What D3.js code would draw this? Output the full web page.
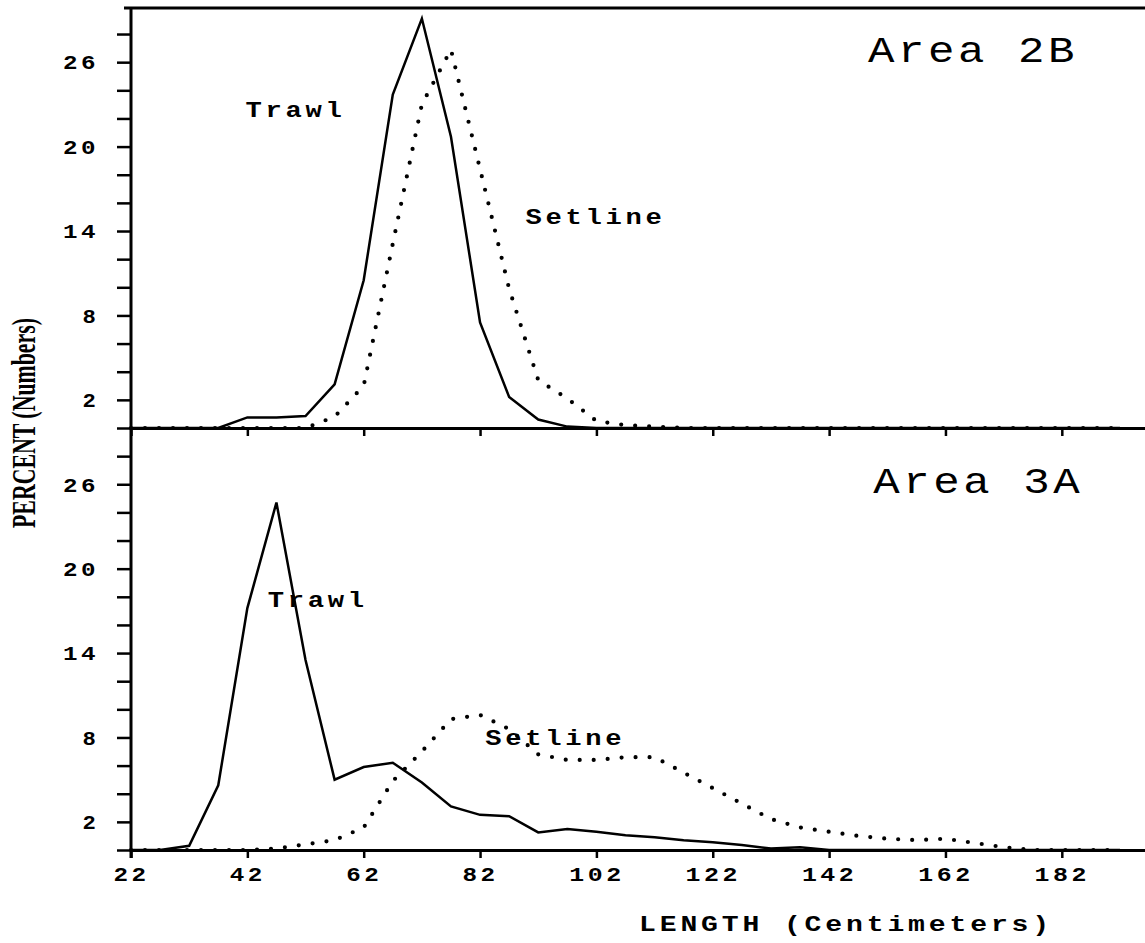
<html lang="en">
  <head>
    <meta charset="utf-8">
    <title>Length frequency - Area 2B / 3A</title>
    <script src="https://d3js.org/d3.v7.min.js"></script>
    <style>
      body { margin: 0; background: #fff; }
      .tick line { stroke: #000; stroke-width: 2.5; }
      .lbl { font-family: "Liberation Mono", monospace; font-weight: bold; fill: #000; letter-spacing: 3px; }
    </style>
  </head>
  <body>
    <script type="text/javascript">
      var w = 1145;
      var h = 943;

      // length classes (cm)
      var lengths = [22, 27, 32, 37, 42, 47, 52, 57, 62, 67, 72, 77, 82, 87, 92, 97, 102, 107, 112, 117,
                     122, 127, 132, 137, 142, 147, 152, 157, 162, 167, 172, 177, 182, 187, 192];
      // Area 2B
      var trawl2B   = [0, 0, 0, 0, 0.75, 0.75, 0.85, 3.1, 10.5, 23.7, 29.1, 20.7, 7.5, 2.2, 0.6, 0.1, 0, 0, 0, 0,
                       0, 0, 0, 0, 0, 0, 0, 0, 0, 0, 0, 0, 0, 0, 0];
      var setline2B = [0, 0, 0, 0, 0, 0, 0, 0.8, 3.0, 13.1, 23.0, 26.9, 18.4, 9.9, 3.4, 2.1, 0.5, 0.2, 0.1, 0,
                       0, 0, 0, 0, 0, 0, 0, 0, 0, 0, 0, 0, 0, 0, 0];
      // Area 3A
      var trawl3A   = [0, 0, 0.3, 4.6, 17.2, 24.7, 13.5, 5.0, 5.9, 6.2, 4.8, 3.1, 2.5, 2.4, 1.25, 1.5, 1.3, 1.05, 0.9, 0.7,
                       0.55, 0.35, 0.1, 0.2, 0, 0, 0, 0, 0, 0, 0, 0, 0, 0, 0];
      var setline3A = [0, 0, 0, 0, 0, 0.1, 0.4, 0.7, 1.6, 4.9, 7.0, 9.3, 9.6, 8.6, 6.8, 6.4, 6.4, 6.6, 6.6, 5.5,
                       4.4, 3.3, 2.2, 1.6, 1.3, 1.0, 0.8, 0.7, 0.8, 0.5, 0.2, 0, 0, 0, 0];

      var xTicks = [22, 42, 62, 82, 102, 122, 142, 162, 182];
      var yTicks = [0, 2, 4, 6, 8, 10, 12, 14, 16, 18, 20, 22, 24, 26, 28];
      var yLabels = [2, 8, 14, 20, 26];

      // width of wide typewriter digits: ~19.5px pitch
      function digitWidth(s) { return String(s).length * 19.5 - 3; }

      var svg = d3.select("body").append("svg")
                  .attr("width", w)
                  .attr("height", h);

      var xScale = d3.scaleLinear().domain([22, 196.3]).range([131, 1145]);

      var panels = [
        { title: "Area 2B", trawl: trawl2B, setline: setline2B, range: [428, 8], top: 29.85,
          titlePos: [148.7, 26.0], trawlPos: [41.7, 22.1], setlinePos: [89.8, 14.5], labels: false },
        { title: "Area 3A", trawl: trawl3A, setline: setline3A, range: [850, 428], top: 30,
          titlePos: [149.6, 25.4], trawlPos: [45.5, 17.3], setlinePos: [82.9, 7.5], labels: true }
      ];

      panels.forEach(function (p) {
        var yScale = d3.scaleLinear().domain([0, p.top]).range(p.range);
        var g = svg.append("g");

        // y axis ticks
        var yAxis = d3.axisLeft(yScale)
                      .tickValues(yTicks)
                      .tickSize(14)
                      .tickPadding(18)
                      .tickFormat(function (d) { return yLabels.indexOf(d) >= 0 ? d : ""; });
        var ya = g.append("g")
                  .attr("transform", "translate(131,0)")
                  .call(yAxis);
        ya.select(".domain").remove();
        ya.selectAll("text")
          .attr("class", "lbl")
          .style("font-size", "21px")
          .filter(function (d) { return yLabels.indexOf(d) >= 0; })
          .attr("textLength", function (d) { return digitWidth(d); })
          .attr("lengthAdjust", "spacingAndGlyphs");

        // x axis (baseline) with ticks pointing down
        var xAxis = d3.axisBottom(xScale)
                      .tickValues(xTicks)
                      .tickSize(8)
                      .tickSizeOuter(0)
                      .tickFormat(function (d) { return p.labels ? d : ""; });
        var xa = g.append("g")
                  .attr("transform", "translate(0," + p.range[0] + ")")
                  .call(xAxis);
        xa.select(".domain").attr("stroke", "#000").attr("stroke-width", 3);
        if (p.labels) {
          xa.selectAll("text")
            .attr("class", "lbl")
            .attr("y", 31)
            .attr("dy", 0)
            .style("font-size", "21px")
            .attr("textLength", function (d) { return digitWidth(d); })
            .attr("lengthAdjust", "spacingAndGlyphs");
        }

        var line = d3.line()
                     .x(function (d, i) { return xScale(lengths[i]); })
                     .y(function (d) { return yScale(d); });

        g.append("path")
         .datum(p.trawl)
         .attr("d", line)
         .attr("fill", "none")
         .attr("stroke", "#000")
         .attr("stroke-width", 2.5)
         .attr("stroke-linejoin", "miter");

        g.append("path")
         .datum(p.setline)
         .attr("d", line)
         .attr("fill", "none")
         .attr("stroke", "#000")
         .attr("stroke-width", 4.2)
         .attr("stroke-linecap", "round")
         .attr("stroke-dasharray", "0,14");

        g.append("text")
         .attr("x", xScale(p.titlePos[0]))
         .attr("y", yScale(p.titlePos[1]))
         .attr("textLength", 210)
         .attr("lengthAdjust", "spacingAndGlyphs")
         .style("font-family", "'Liberation Mono', monospace")
         .style("font-size", "37px")
         .style("letter-spacing", "3px")
         .text(p.title);

        g.append("text")
         .attr("class", "lbl")
         .attr("x", xScale(p.trawlPos[0]))
         .attr("y", yScale(p.trawlPos[1]))
         .attr("textLength", 100)
         .attr("lengthAdjust", "spacingAndGlyphs")
         .style("font-size", "22px")
         .text("Trawl");

        g.append("text")
         .attr("class", "lbl")
         .attr("x", xScale(p.setlinePos[0]))
         .attr("y", yScale(p.setlinePos[1]))
         .attr("textLength", 140)
         .attr("lengthAdjust", "spacingAndGlyphs")
         .style("font-size", "22px")
         .text("Setline");
      });

      // frame: top border and left axis
      svg.append("line")
         .attr("x1", 124).attr("x2", w)
         .attr("y1", 8).attr("y2", 8)
         .attr("stroke", "#000").attr("stroke-width", 3);
      svg.append("line")
         .attr("x1", 131).attr("x2", 131)
         .attr("y1", 7).attr("y2", 858)
         .attr("stroke", "#000").attr("stroke-width", 3);

      // axis titles
      svg.append("text")
         .attr("class", "lbl")
         .attr("x", 639)
         .attr("y", 931)
         .attr("textLength", 414)
         .attr("lengthAdjust", "spacingAndGlyphs")
         .style("font-size", "22px")
         .text("LENGTH (Centimeters)");

      svg.append("text")
         .attr("transform", "translate(35,423) rotate(-90)")
         .attr("text-anchor", "middle")
         .attr("textLength", 210)
         .attr("lengthAdjust", "spacingAndGlyphs")
         .style("font-family", "'Liberation Serif', serif")
         .style("font-weight", "bold")
         .style("font-size", "34px")
         .text("PERCENT (Numbers)");
    </script>
  </body>
</html>
